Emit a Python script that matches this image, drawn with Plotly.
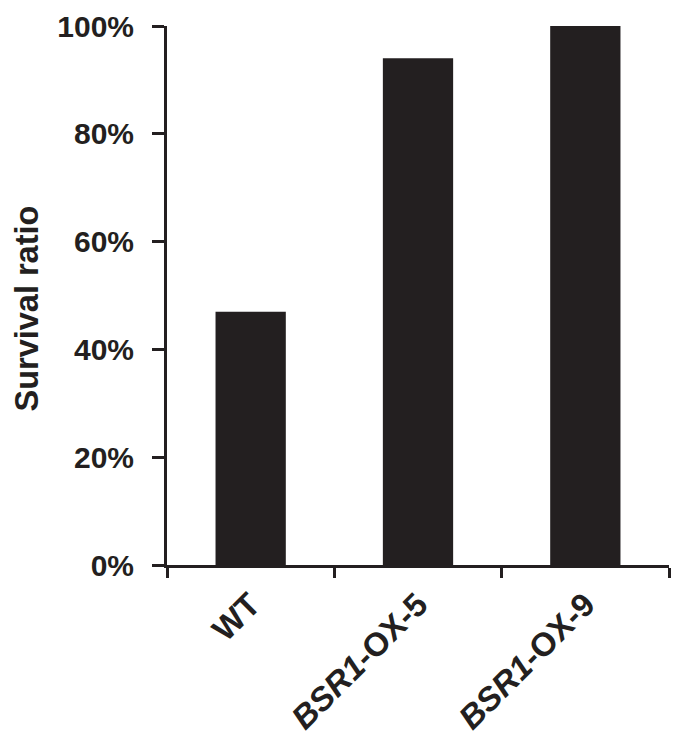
import plotly.graph_objects as go

categories = ["WT", "<i>BSR1</i>-OX-5", "<i>BSR1</i>-OX-9"]
survival = [47, 94, 100]
y_ticks = [0, 20, 40, 60, 80, 100]
y_tick_labels = ["0%", "20%", "40%", "60%", "80%", "100%"]

ink = "#231f20"
font_family = "Liberation Sans, Arial, sans-serif"

fig = go.Figure(go.Bar(
    x=categories, y=survival, marker=dict(color=ink, line=dict(width=0)),
    width=0.42,
))

fig.update_layout(
    width=687, height=753,
    margin=dict(l=159, r=26, t=18, b=196, autoexpand=False),
    paper_bgcolor="white", plot_bgcolor="white",
    showlegend=False,
    font=dict(family=font_family, color=ink),
    xaxis=dict(
        range=[-0.5, 2.5], showline=True, linecolor=ink, linewidth=3,
        ticks="outside", tickson="boundaries", ticklen=10, tickwidth=3, tickcolor=ink,
        tickangle=-45, tickfont=dict(size=33, family=font_family, color=ink, weight="bold"),
        showgrid=False, zeroline=False, ticklabelstandoff=4,
    ),
    yaxis=dict(
        range=[0, 100], tickvals=y_ticks, ticktext=y_tick_labels,
        showline=True, linecolor=ink, linewidth=3,
        ticks="outside", ticklen=12, tickwidth=3, tickcolor=ink,
        tickfont=dict(size=30, family=font_family, color=ink, weight="bold"),
        showgrid=False, zeroline=False, ticklabelstandoff=12,
    ),
    annotations=[dict(
        text="Survival ratio", textangle=-90, showarrow=False,
        xref="paper", yref="paper", x=(27 - 167) / 502, y=(565 - 309) / 538,
        xanchor="center", yanchor="middle",
        font=dict(size=32.5, family=font_family, color=ink, weight="bold"),
    )],
)

fig.write_html("out.html")
